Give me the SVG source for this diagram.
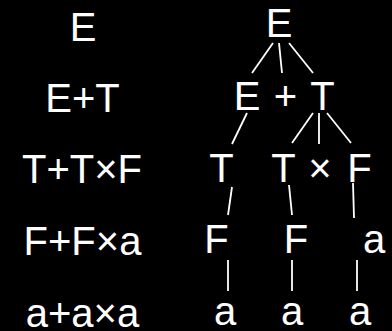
<svg xmlns="http://www.w3.org/2000/svg" width="392" height="331" viewBox="0 0 392 331">
<style>
text{font-family:"Liberation Sans",Arial,sans-serif;font-size:40px;fill:#fff;text-anchor:middle}
.c line{stroke:#fff;stroke-width:1.8;stroke-linecap:butt}
</style>
<rect width="392" height="331" fill="#000"/>
<g id="derivation">
<text x="83" y="41">E</text>
<text x="82.5" y="112">E+T</text>
<text x="82" y="183">T+T×F</text>
<text x="82.5" y="255">F+F×a</text>
<text x="82.5" y="327">a+a×a</text>
</g>
<g class="c" id="connectors">
<line x1="273" y1="43" x2="252" y2="73"/>
<line x1="279" y1="43" x2="282" y2="73"/>
<line x1="289" y1="43" x2="313" y2="73"/>
<line x1="247" y1="113" x2="232" y2="144"/>
<line x1="313" y1="113" x2="292" y2="143"/>
<line x1="319" y1="113" x2="319" y2="144"/>
<line x1="327" y1="113" x2="351" y2="143"/>
<line x1="232" y1="187" x2="228" y2="215"/>
<line x1="289" y1="185" x2="292" y2="215"/>
<line x1="353" y1="183" x2="354" y2="218"/>
<line x1="228" y1="260" x2="228" y2="291"/>
<line x1="292" y1="260" x2="292" y2="291"/>
<line x1="357" y1="260" x2="357" y2="291"/>
</g>
<g id="n_E0"><text x="279" y="37">E</text></g>
<g id="n_E1"><text x="247" y="110">E</text></g>
<g id="n_plus"><text x="285.5" y="110">+</text></g>
<g id="n_T1"><text x="322.5" y="110">T</text></g>
<g id="n_T2"><text x="221.5" y="182">T</text></g>
<g id="n_T3"><text x="283.5" y="182">T</text></g>
<g id="n_times"><text x="320" y="182">×</text></g>
<g id="n_F1"><text x="359.5" y="182">F</text></g>
<g id="n_F2"><text x="216.5" y="253">F</text></g>
<g id="n_F3"><text x="296" y="253">F</text></g>
<g id="n_a1"><text x="374" y="253">a</text></g>
<g id="n_a2"><text x="225" y="325">a</text></g>
<g id="n_a3"><text x="292" y="325">a</text></g>
<g id="n_a4"><text x="360" y="325">a</text></g>
</svg>
